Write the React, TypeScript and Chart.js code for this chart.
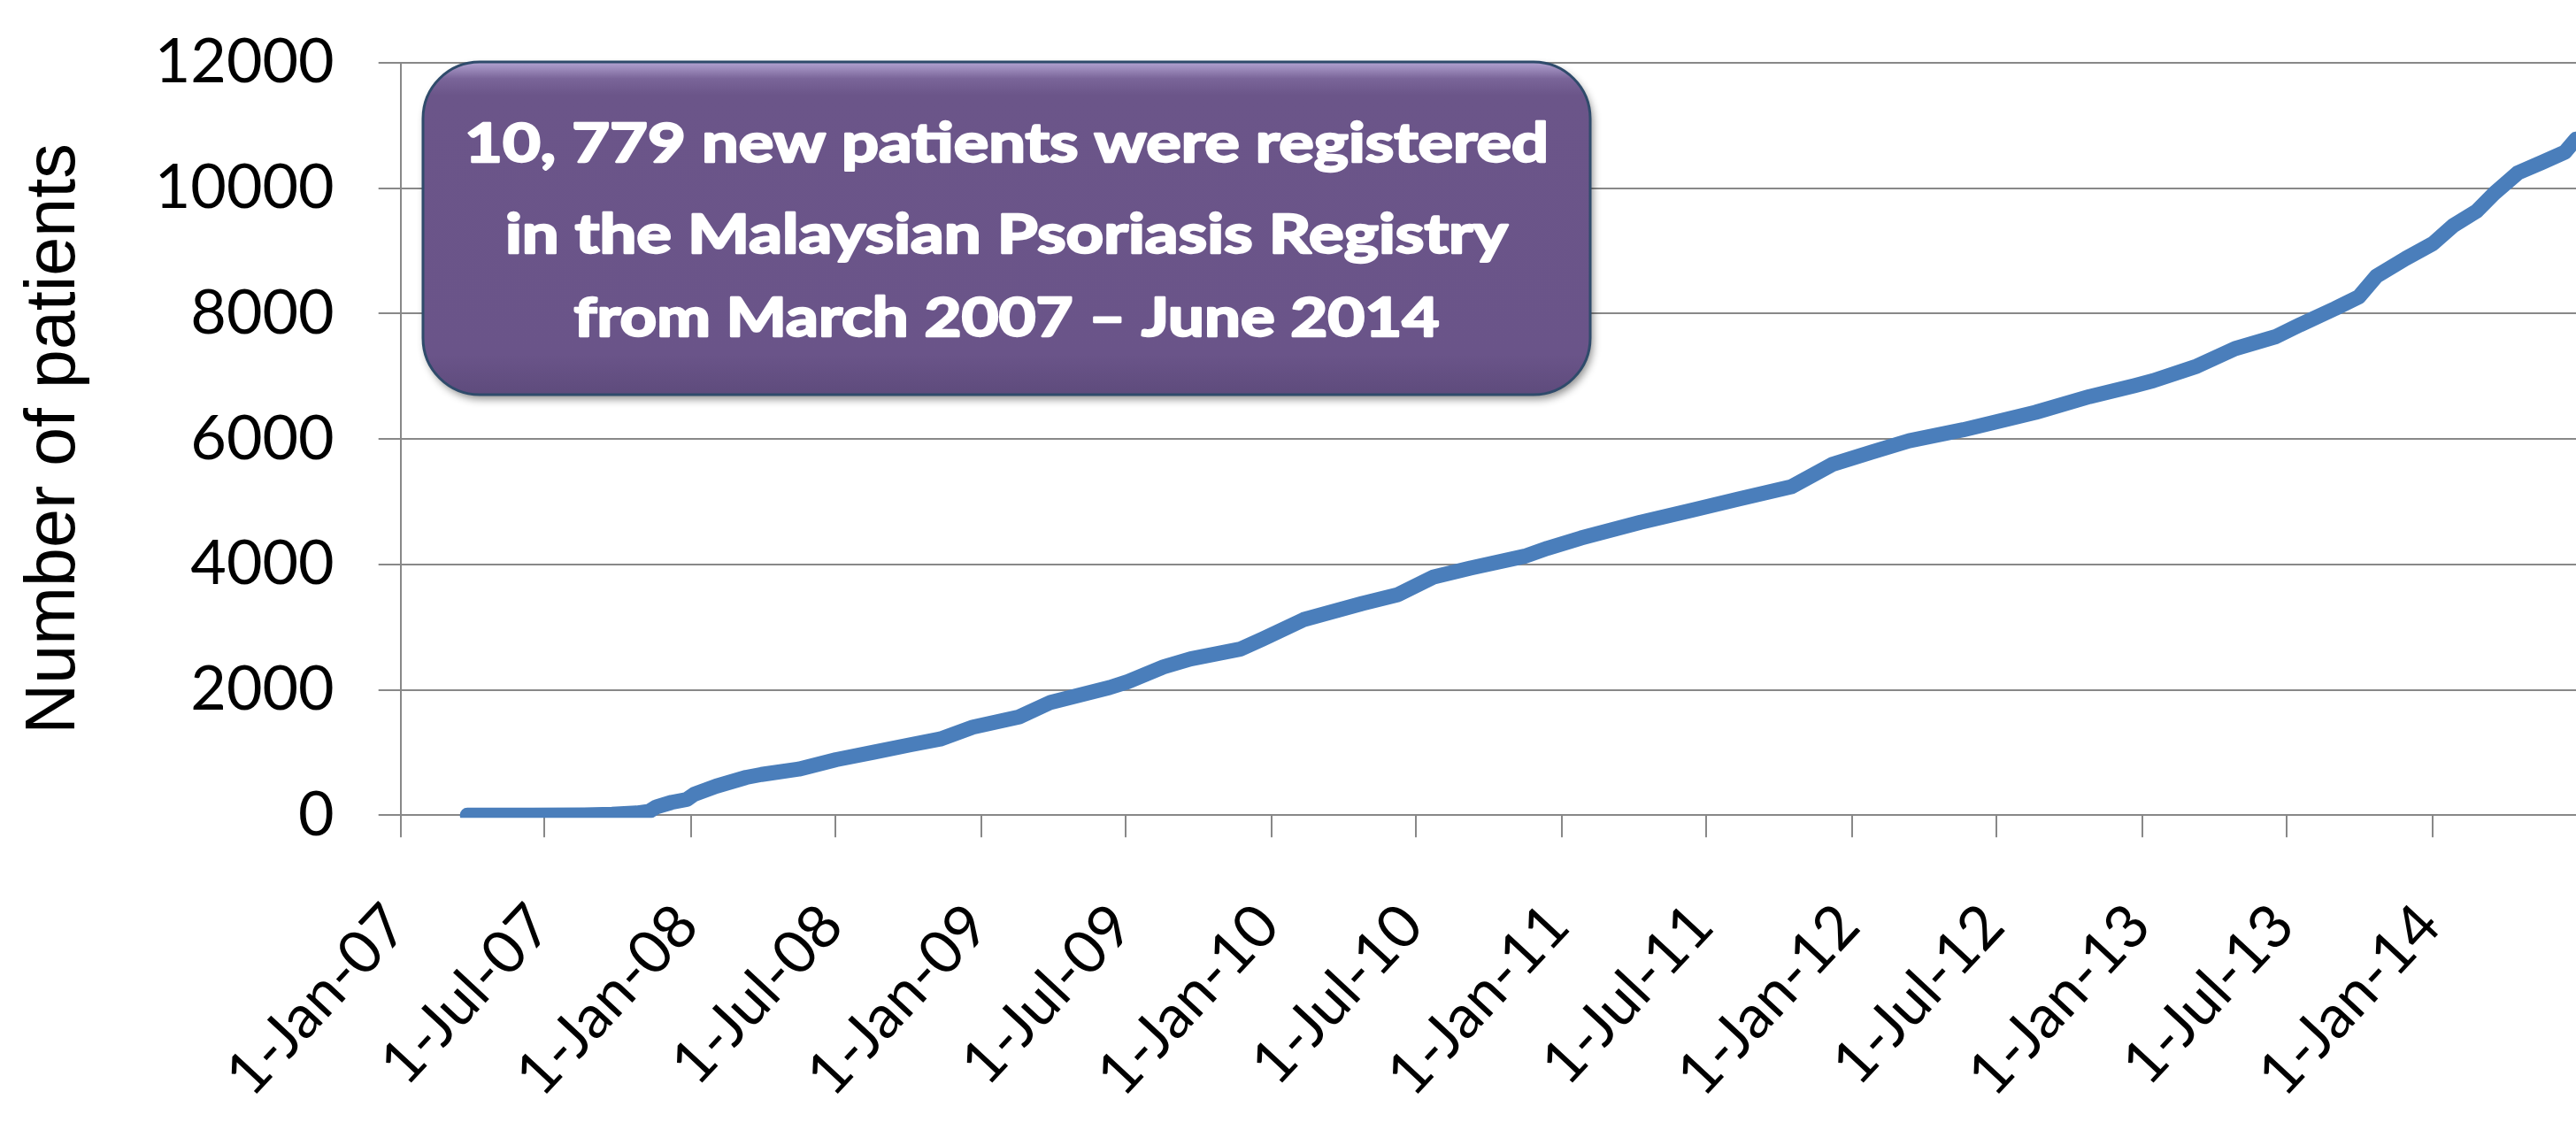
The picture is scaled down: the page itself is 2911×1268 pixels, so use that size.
import { useEffect, useRef } from "react";
import { Chart, registerables } from "chart.js";

Chart.register(...registerables);

const W = 2911;
const H = 1268;

// Registration dates (cumulative counts)
const dates = [
  "2007-03-26", "2007-06-15", "2007-08-20", "2007-09-24", "2007-10-25", "2007-11-10",
  "2007-11-19", "2007-12-08", "2007-12-27", "2008-01-05", "2008-02-02", "2008-03-11",
  "2008-03-30", "2008-05-16", "2008-07-02", "2008-08-18", "2008-10-03", "2008-11-10",
  "2008-12-21", "2009-02-17", "2009-03-29", "2009-06-11", "2009-07-04", "2009-08-18",
  "2009-09-21", "2009-11-22", "2009-12-21", "2010-02-10", "2010-04-25", "2010-06-09",
  "2010-07-24", "2010-09-08", "2010-11-15", "2010-12-14", "2011-01-25", "2011-04-10",
  "2011-06-13", "2011-08-10", "2011-10-17", "2011-12-07", "2012-01-27", "2012-03-13",
  "2012-05-20", "2012-08-19", "2012-10-26", "2012-12-22", "2013-01-14", "2013-03-10",
  "2013-04-27", "2013-06-18", "2013-07-18", "2013-08-31", "2013-09-30", "2013-10-22",
  "2013-11-28", "2014-01-01", "2014-01-26", "2014-02-25", "2014-03-19", "2014-04-18",
  "2014-05-18", "2014-06-16", "2014-06-30",
];

const patients = [
  0, 0, 5, 15, 35, 63,
  134, 205, 251, 331, 463, 604,
  650, 735, 886, 1003, 1122, 1215,
  1404, 1566, 1801, 2036, 2130, 2365,
  2492, 2647, 2812, 3118, 3377, 3518,
  3800, 3941, 4129, 4257, 4420, 4670,
  4860, 5038, 5239, 5592, 5793, 5970,
  6146, 6424, 6675, 6852, 6928, 7160,
  7440, 7634, 7821, 8080, 8268, 8597,
  8880, 9115, 9397, 9632, 9914, 10244,
  10408, 10573, 10779,
];

const tickDates = [
  "2007-01-01", "2007-07-01", "2008-01-01", "2008-07-01", "2009-01-01",
  "2009-07-01", "2010-01-01", "2010-07-01", "2011-01-01", "2011-07-01",
  "2012-01-01", "2012-07-01", "2013-01-01", "2013-07-01", "2014-01-01",
];

const tickLabels = [
  "1-Jan-07", "1-Jul-07", "1-Jan-08", "1-Jul-08", "1-Jan-09",
  "1-Jul-09", "1-Jan-10", "1-Jul-10", "1-Jan-11", "1-Jul-11",
  "1-Jan-12", "1-Jul-12", "1-Jan-13", "1-Jul-13", "1-Jan-14",
];

const axisStart = "2007-01-01";
const axisEnd = "2014-06-30";

const yMin = 0;
const yMax = 12000;
const yStep = 2000;

const yTitle = "Number of patients";

const calloutLines = [
  "10, 779 new patients were registered",
  "in the Malaysian Psoriasis Registry",
  "from March 2007 \u2013 June 2014",
];

const GRID = "#888888";
const LINE = "#4a7ebb";

const toDay = (s: string) => {
  const [y, m, d] = s.split("-").map(Number);
  const [y0, m0, d0] = axisStart.split("-").map(Number);
  return (Date.UTC(y, m - 1, d) - Date.UTC(y0, m0 - 1, d0)) / 86400000;
};

const calloutPlugin = {
  id: "callout",
  afterDraw(chart: any) {
    const ctx: CanvasRenderingContext2D = chart.ctx;
    const x = 478, y = 70, w = 1319, h = 376, r = 64;
    const path = () => {
      ctx.beginPath();
      ctx.moveTo(x + r, y);
      ctx.lineTo(x + w - r, y);
      ctx.arcTo(x + w, y, x + w, y + r, r);
      ctx.lineTo(x + w, y + h - r);
      ctx.arcTo(x + w, y + h, x + w - r, y + h, r);
      ctx.lineTo(x + r, y + h);
      ctx.arcTo(x, y + h, x, y + h - r, r);
      ctx.lineTo(x, y + r);
      ctx.arcTo(x, y, x + r, y, r);
      ctx.closePath();
    };
    ctx.save();
    path();
    ctx.shadowColor = "rgba(0,0,0,0.45)";
    ctx.shadowBlur = 10;
    ctx.shadowOffsetX = 3;
    ctx.shadowOffsetY = 5;
    ctx.fillStyle = "#6a5489";
    ctx.fill();
    ctx.shadowColor = "transparent";
    const g = ctx.createLinearGradient(0, y, 0, y + h);
    g.addColorStop(0, "#b3a4d2");
    g.addColorStop(0.05, "#7a6599");
    g.addColorStop(0.1, "#6b5589");
    g.addColorStop(0.88, "#6a5489");
    g.addColorStop(1, "#5e4b7c");
    ctx.fillStyle = g;
    ctx.fill();
    ctx.lineWidth = 3;
    ctx.strokeStyle = "#2f4b6b";
    ctx.stroke();

    const cx = x + w / 2;
    const baselines = [183, 286, 380];
    const widths = [1225, 1133, 978];
    ctx.fillStyle = "#ffffff";
    ctx.strokeStyle = "#ffffff";
    ctx.lineWidth = 2.4;
    ctx.lineJoin = "round";
    ctx.font = "bold 61px Lato, 'Noto Sans', sans-serif";
    ctx.textAlign = "center";
    ctx.textBaseline = "alphabetic";
    calloutLines.forEach((t, i) => {
      const m = ctx.measureText(t).width;
      const s = widths[i] / m;
      ctx.save();
      ctx.translate(cx, baselines[i]);
      ctx.scale(s, 1);
      ctx.fillText(t, 0, 0);
      ctx.strokeText(t, 0, 0);
      ctx.restore();
    });
    ctx.restore();
  },
};

export default function App() {
  const ref = useRef<HTMLCanvasElement | null>(null);

  useEffect(() => {
    if (!ref.current) return;
    const points = dates.map((d, i) => ({ x: toDay(d), y: patients[i] }));
    const tickDays = tickDates.map(toDay);
    const chart = new Chart(ref.current, {
      type: "line",
      data: {
        datasets: [
          {
            data: points,
            borderColor: LINE,
            backgroundColor: LINE,
            borderWidth: 17,
            borderCapStyle: "round",
            borderJoinStyle: "round",
            pointRadius: 0,
            tension: 0,
            fill: false,
            clip: { left: 30, top: 30, right: 30, bottom: 3 },
          } as any,
        ],
      },
      options: {
        animation: false,
        responsive: false,
        devicePixelRatio: 1,
        layout: { padding: { top: 70.8, left: 0, right: 0, bottom: 0 } },
        plugins: {
          legend: { display: false },
          tooltip: { enabled: false },
          title: { display: false },
        },
        scales: {
          x: {
            type: "linear",
            min: toDay(axisStart),
            max: toDay(axisEnd),
            afterBuildTicks: (s: any) => {
              s.ticks = tickDays.map((v) => ({ value: v }));
            },
            afterFit: (s: any) => {
              s.height = H - 921.3;
            },
            ticks: {
              autoSkip: false,
              minRotation: 47,
              maxRotation: 47,
              padding: 60,
              labelOffset: -4,
              color: "#000000",
              font: { family: "Lato", size: 68 },
              callback: (_v: any, i: number) => tickLabels[i] ?? "",
            },
            grid: {
              drawOnChartArea: false,
              drawTicks: true,
              tickLength: 25,
              color: GRID,
              lineWidth: 2,
            },
            border: { display: true, color: GRID, width: 2 },
          },
          y: {
            min: yMin,
            max: yMax,
            afterFit: (s: any) => {
              s.width = 452.7;
              s.paddingTop = 0;
              s.paddingBottom = 0;
            },
            ticks: {
              stepSize: yStep,
              padding: 50,
              color: "#000000",
              font: { family: "Lato", size: 70 },
              callback: (v: any) => String(v),
            },
            grid: { color: GRID, lineWidth: 2, tickLength: 25, drawTicks: true },
            border: { display: true, color: GRID, width: 2 },
            title: {
              display: true,
              text: yTitle,
              color: "#000000",
              font: { family: "'Liberation Sans', Arial, sans-serif", size: 79 },
              padding: { top: 15, bottom: 0 },
            },
          },
        },
      },
      plugins: [calloutPlugin],
    });
    return () => chart.destroy();
  }, []);

  return (
    <div
      style={{
        position: "absolute",
        left: 0,
        top: 0,
        width: W,
        height: H,
        background: "#ffffff",
        overflow: "hidden",
      }}
    >
      <canvas ref={ref} width={W} height={H} style={{ width: W, height: H, display: "block" }} />
    </div>
  );
}
